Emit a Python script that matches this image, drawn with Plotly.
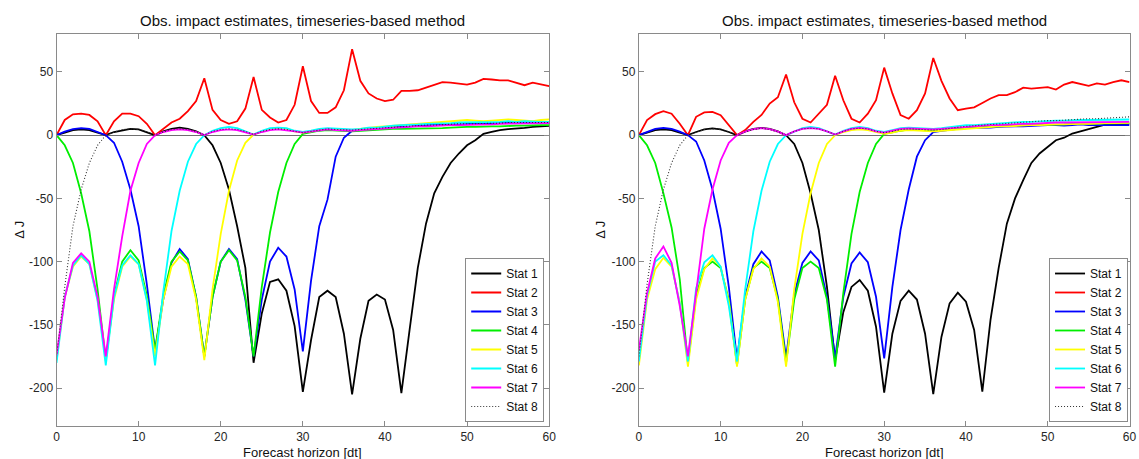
import plotly.graph_objects as go

# ---------------- data ----------------
horizon = list(range(61))
station_names = ["Stat 1", "Stat 2", "Stat 3", "Stat 4", "Stat 5", "Stat 6", "Stat 7", "Stat 8"]
panel_title = "Obs. impact estimates, timeseries-based method"
x_label = "Forecast horizon [dt]"
y_label = "Δ J"
x_ticks = [0, 10, 20, 30, 40, 50, 60]
y_ticks = [-200, -150, -100, -50, 0, 50]
y_tick_text = ["-200", "-150", "-100", "-50", "0", "50"]

# left panel
left_stat1 = [0, 2, 4, 4.5, 4, 2, 0, 2.5, 4, 5,
              4.5, 2.5, 0, 3, 5, 6, 5, 3, 0, -8,
              -22, -43, -72, -105, -180, -141, -116, -114, -123, -151,
              -203, -162, -128, -123, -128, -157, -205, -161, -131, -126,
              -130, -154, -204, -154, -105, -70, -46, -33, -22, -14.5,
              -8, -4, 1, 2.6, 4, 4.7, 5, 5.8, 6.6, 7,
              7.4]
left_stat2 = [0, 12, 16.5, 17, 16, 11, 0, 11, 17, 17,
              15, 9, 0, 5, 10, 13, 19, 27, 45, 20,
              12, 9, 11, 21, 46, 20, 14, 10, 12, 24,
              54.5, 27, 17.6, 17.6, 22, 35.5, 68, 43, 33, 29,
              27, 28, 35, 35, 35.5, 37.6, 40, 42, 41.6, 41,
              40, 41.6, 44.5, 44, 43.4, 43.4, 41.6, 39.5, 41.6, 40,
              38.7]
left_stat3 = [0, 2.8, 4.8, 5.5, 5, 2.8, 0, -6, -21, -43,
              -72, -118, -170, -130, -101, -90, -98, -128, -175, -128,
              -100, -90, -98, -130, -175, -130, -100, -89, -96, -122,
              -171, -115, -72, -51, -17, -2, 3.5, 4, 5, 5.5,
              6.5, 6.5, 6.5, 7, 7.5, 8, 8, 8.5, 9, 8.5,
              9, 9, 9.5, 9.5, 9.5, 10, 10, 10, 10, 10,
              10]
left_stat4 = [0, -8, -22, -46, -76, -122, -178, -127, -100, -91,
              -99, -127, -170, -127, -100, -92, -99, -128, -175, -128,
              -100, -91, -99, -128, -175, -120, -77, -45, -22, -7,
              1, 2.5, 3.5, 4, 3.5, 3, 3, 3.5, 4, 4.5,
              5, 5, 5, 5, 5.5, 5.5, 5, 5.5, 6, 6.5,
              6.5, 6.5, 7, 7, 7, 7.5, 7.5, 7.5, 8, 8,
              8]
left_stat5 = [-178, -128, -104, -96, -102, -130, -177, -130, -104, -96,
              -102, -130, -175, -130, -104, -96, -102, -130, -178, -122,
              -78, -44, -20, -6, 0.5, 3, 5, 5.5, 5, 3,
              2, 3, 4.5, 5, 4.5, 4, 4, 5, 6, 6.5,
              7, 7.5, 8, 9, 9.5, 10, 10, 10.5, 11, 12,
              12, 11.5, 11, 11.5, 12, 12.5, 12, 11.5, 11, 12,
              12.5]
left_stat6 = [-180, -128, -103, -95, -102, -131, -182, -128, -103, -95,
              -102, -131, -182, -124, -76, -44, -21, -7, 0, 3.5,
              5.5, 6.5, 5.5, 3, 0.5, 3.5, 5.5, 6, 5.5, 3.5,
              2.5, 3.5, 5, 5.5, 5, 4.5, 4.5, 5, 6, 6,
              7, 7.5, 8, 8, 8.5, 9, 9, 9.5, 9.5, 10,
              10, 10, 10.5, 10.5, 10.5, 11, 10.5, 11, 10.5, 10.5,
              10.5]
left_stat7 = [-174, -129, -101, -93.5, -100, -128, -175, -122, -80, -44,
              -22, -7, 0, 2.5, 4, 4.5, 4, 2.5, 0, 2.5,
              4, 4.5, 4, 2.5, 0.5, 2.5, 4, 4.5, 4, 3,
              2, 3, 4, 4.5, 4, 3.5, 3.5, 4, 4.5, 5,
              5.5, 6, 6, 6.5, 7, 7, 7.5, 7.5, 8, 8,
              8, 8.5, 8.5, 8.5, 9, 9, 9, 9, 9.5, 9.5,
              9.5]
left_stat8 = [-175, -120, -72, -43, -22, -8, 0, 2.5, 4.5, 5,
              4.5, 2.5, 0, 2.5, 4.5, 5, 4.5, 2.5, 0, 3,
              4.5, 5, 4.5, 3, 0.5, 3, 4.5, 5, 4.5, 3,
              2, 3, 4, 5, 4.5, 4, 4, 4.5, 5, 5.5,
              6, 6.5, 6.5, 7, 7.5, 8, 8, 8.5, 8.5, 9,
              9, 9, 9.5, 9.5, 9.5, 10, 10, 10, 10, 10,
              10]

# right panel
right_stat1 = [0, 2, 4, 4.5, 4, 2, 0, 2.5, 4.5, 5.3,
               4.5, 2.5, 0, 3, 5, 5.8, 5, 3, 0, -7,
               -22, -46, -75, -120, -178, -140, -120, -114.6, -123, -151.5,
               -203.7, -157, -131, -123, -130, -157, -204.7, -159.6, -133, -124.6,
               -131.7, -154, -202.9, -146, -105, -70, -50, -35.5, -22, -14.5,
               -9, -4, -2, 1.3, 3, 5, 6.6, 8.4, 8.5, 9,
               9]
right_stat2 = [0, 12, 16.6, 19, 17, 9, 0, 14.5, 18, 18.4,
               15.8, 8, 0, 4, 10.5, 16, 25, 30, 48, 26,
               13, 10, 17, 24, 47, 27.6, 13, 10, 17, 27.6,
               53.4, 33, 15.8, 13, 19.7, 33, 61, 43, 29, 19.7,
               21, 22, 25.5, 29, 31.6, 31.6, 34, 37.6, 36.8, 37.6,
               38, 36, 40, 42, 40.8, 39, 41, 40, 42, 43.4,
               42]
right_stat3 = [0, 2.8, 5, 5.8, 5, 2.8, 0, -5, -20, -43,
               -74, -120, -177, -128, -102, -92, -99, -128, -176, -126,
               -101, -92, -99, -128, -176, -128, -101.5, -92.8, -100.5, -127.8,
               -176.5, -120, -75, -43, -17, -4, 2.5, 3.5, 4.5, 5,
               5.5, 5.5, 6, 6, 6.5, 7, 7, 7, 7.5, 7.5,
               8, 8, 7.5, 8, 8.5, 8, 8, 8.5, 8, 8.5,
               8]
right_stat4 = [0, -8, -22, -46, -73, -114, -180, -127, -105, -100,
               -105, -130, -182, -130, -105, -100, -105, -130, -180, -130,
               -105, -100, -105, -130, -183, -125, -78, -45, -22, -7,
               1, 2.5, 3.5, 4.5, 4, 3.5, 3.5, 4, 4.5, 5,
               6, 6, 6.5, 7, 7, 7.5, 7.5, 8, 8, 8,
               8.5, 8.5, 8.5, 9, 9, 9, 9, 9.5, 9.5, 9.5,
               9.5]
right_stat5 = [-182, -130, -106, -97, -104, -132, -183, -130, -106, -97.5,
               -104, -132, -183, -130, -106, -97.5, -104, -132, -183, -122,
               -78, -46, -22, -7, 0, 2.5, 4, 4.5, 4, 2.5,
               1, 2, 3.5, 4, 3.5, 3, 3, 3.5, 4, 5,
               5.5, 6, 6, 6.5, 7, 7, 7.5, 7.5, 8, 8,
               8.5, 8.5, 8.5, 9, 9, 9, 9.5, 9.5, 9.5, 9.5,
               9.7]
right_stat6 = [-179, -127, -100, -95, -103, -133, -179, -121, -100.5, -95,
               -104, -135, -179, -122, -76, -44, -21, -7, 0, 3,
               5.5, 6.5, 5.5, 3, 0.5, 3.5, 5.5, 6.5, 5.5, 3.5,
               2.5, 4, 5.5, 6, 5.5, 5, 5, 5.5, 6.5, 7,
               8, 8, 8.5, 9, 9.5, 10, 10, 10.5, 10.5, 11,
               11, 11.5, 11.5, 12, 12, 12, 12, 12.5, 12, 12.5,
               12.4]
right_stat7 = [-170, -125, -97.5, -88, -101, -135, -175, -122.5, -74, -43,
               -20, -6, 0, 2.8, 4.8, 5.5, 4.8, 2.8, 0, 3,
               5, 5.5, 5, 3, 0.5, 3, 5, 5.8, 5, 3,
               2, 3.5, 5, 5.3, 5, 4.5, 4.5, 5, 5.5, 6,
               7, 7, 7.5, 8, 8, 8.5, 8.5, 9, 9, 9.5,
               9.5, 10, 10, 10, 10.5, 10.5, 10.5, 10.5, 10.5, 10.5,
               10.5]
right_stat8 = [-175, -118, -72, -43, -22, -8, 0, 2.5, 4.5, 5,
               4.5, 2.5, 0, 2.5, 4.5, 5.5, 4.5, 2.5, 0, 3,
               5, 5.5, 5, 3, 0.5, 3, 5, 5.5, 5, 3,
               2, 3, 4.5, 5, 4.5, 4, 4, 4.5, 5.5, 6,
               7, 7.5, 8, 8.5, 9, 9.5, 10, 10, 10.5, 11,
               11.5, 11.5, 12, 12.5, 12.5, 13, 13, 13.5, 13.5, 14,
               14.5]

left_series = [left_stat1, left_stat2, left_stat3, left_stat4,
               left_stat5, left_stat6, left_stat7, left_stat8]
right_series = [right_stat1, right_stat2, right_stat3, right_stat4,
                right_stat5, right_stat6, right_stat7, right_stat8]

# ---------------- styling ----------------
colors = ["#000000", "#ff0000", "#0000ff", "#00ee00",
          "#ffff00", "#00ffff", "#ff00ff", "#333333"]
W, H = 1139, 459
FONT = "Liberation Sans, Arial, sans-serif"
FRAME = "#8a8a8a"

fig = go.Figure()

for panel, (series, xa, ya, lg) in enumerate([
        (left_series, "x", "y", "legend"),
        (right_series, "x2", "y2", "legend2")]):
    for i, (name, vals) in enumerate(zip(station_names, series)):
        assert len(vals) == len(horizon), (panel, name, len(vals))
        dotted = (i == 7)
        fig.add_trace(go.Scatter(
            x=horizon, y=vals, mode="lines", name=name,
            xaxis=xa, yaxis=ya, legend=lg,
            line=dict(color=colors[i], width=1.1 if dotted else 1.8,
                      dash="1px,2px" if dotted else "solid"),
            hoverinfo="skip",
        ))

# plot area in pixels
top_px, bot_px = 34, 426
L0, L1 = 54, 551
R0, R1 = 641.5, 1136.5
ydom = [1 - bot_px / H, 1 - top_px / H]

axis_common = dict(
    showline=True, linecolor=FRAME, linewidth=1, mirror="ticks",
    ticks="inside", ticklen=5, tickcolor=FRAME, tickwidth=1,
    showgrid=False, zeroline=False,
    tickfont=dict(family=FONT, size=12, color="#262626"),
)
xaxis_common = dict(axis_common, range=[0, 60], tickvals=x_ticks)
yaxis_common = dict(axis_common, range=[-230, 80], tickvals=y_ticks,
                    ticktext=y_tick_text, zeroline=True,
                    zerolinecolor="#6e6e6e", zerolinewidth=1)

legend_common = dict(
    bgcolor="white", bordercolor=FRAME, borderwidth=1,
    font=dict(family=FONT, size=12, color="#111111"),
    xanchor="right", yanchor="bottom", tracegroupgap=0,
    itemwidth=30,
)

fig.update_layout(
    width=W, height=H,
    margin=dict(l=0, r=0, t=0, b=0),
    paper_bgcolor="white", plot_bgcolor="white",
    showlegend=True,
    xaxis=dict(xaxis_common, domain=[L0 / W, L1 / W], anchor="y"),
    yaxis=dict(yaxis_common, domain=ydom, anchor="x"),
    xaxis2=dict(xaxis_common, domain=[R0 / W, R1 / W], anchor="y2"),
    yaxis2=dict(yaxis_common, domain=ydom, anchor="x2"),
    legend=dict(legend_common, x=546 / W, y=1 - 422 / H),
    legend2=dict(legend_common, x=1135 / W, y=1 - 422 / H),
)

annotations = []
for c in [(L0 + L1) / 2, (R0 + R1) / 2]:
    annotations.append(dict(
        text=panel_title, xref="paper", yref="paper",
        x=c / W, y=1 - 21 / H, xanchor="center", yanchor="middle",
        showarrow=False, font=dict(family=FONT, size=15, color="#111111")))
    annotations.append(dict(
        text=x_label, xref="paper", yref="paper",
        x=c / W, y=1 - 452 / H, xanchor="center", yanchor="middle",
        showarrow=False, font=dict(family=FONT, size=13, color="#111111")))
for xc in [17, 603]:
    annotations.append(dict(
        text=y_label, xref="paper", yref="paper",
        x=xc / W, y=1 - 230 / H, xanchor="center", yanchor="middle",
        textangle=-90, showarrow=False,
        font=dict(family=FONT, size=13, color="#111111")))
fig.update_layout(annotations=annotations)

fig.write_html("out.html")
